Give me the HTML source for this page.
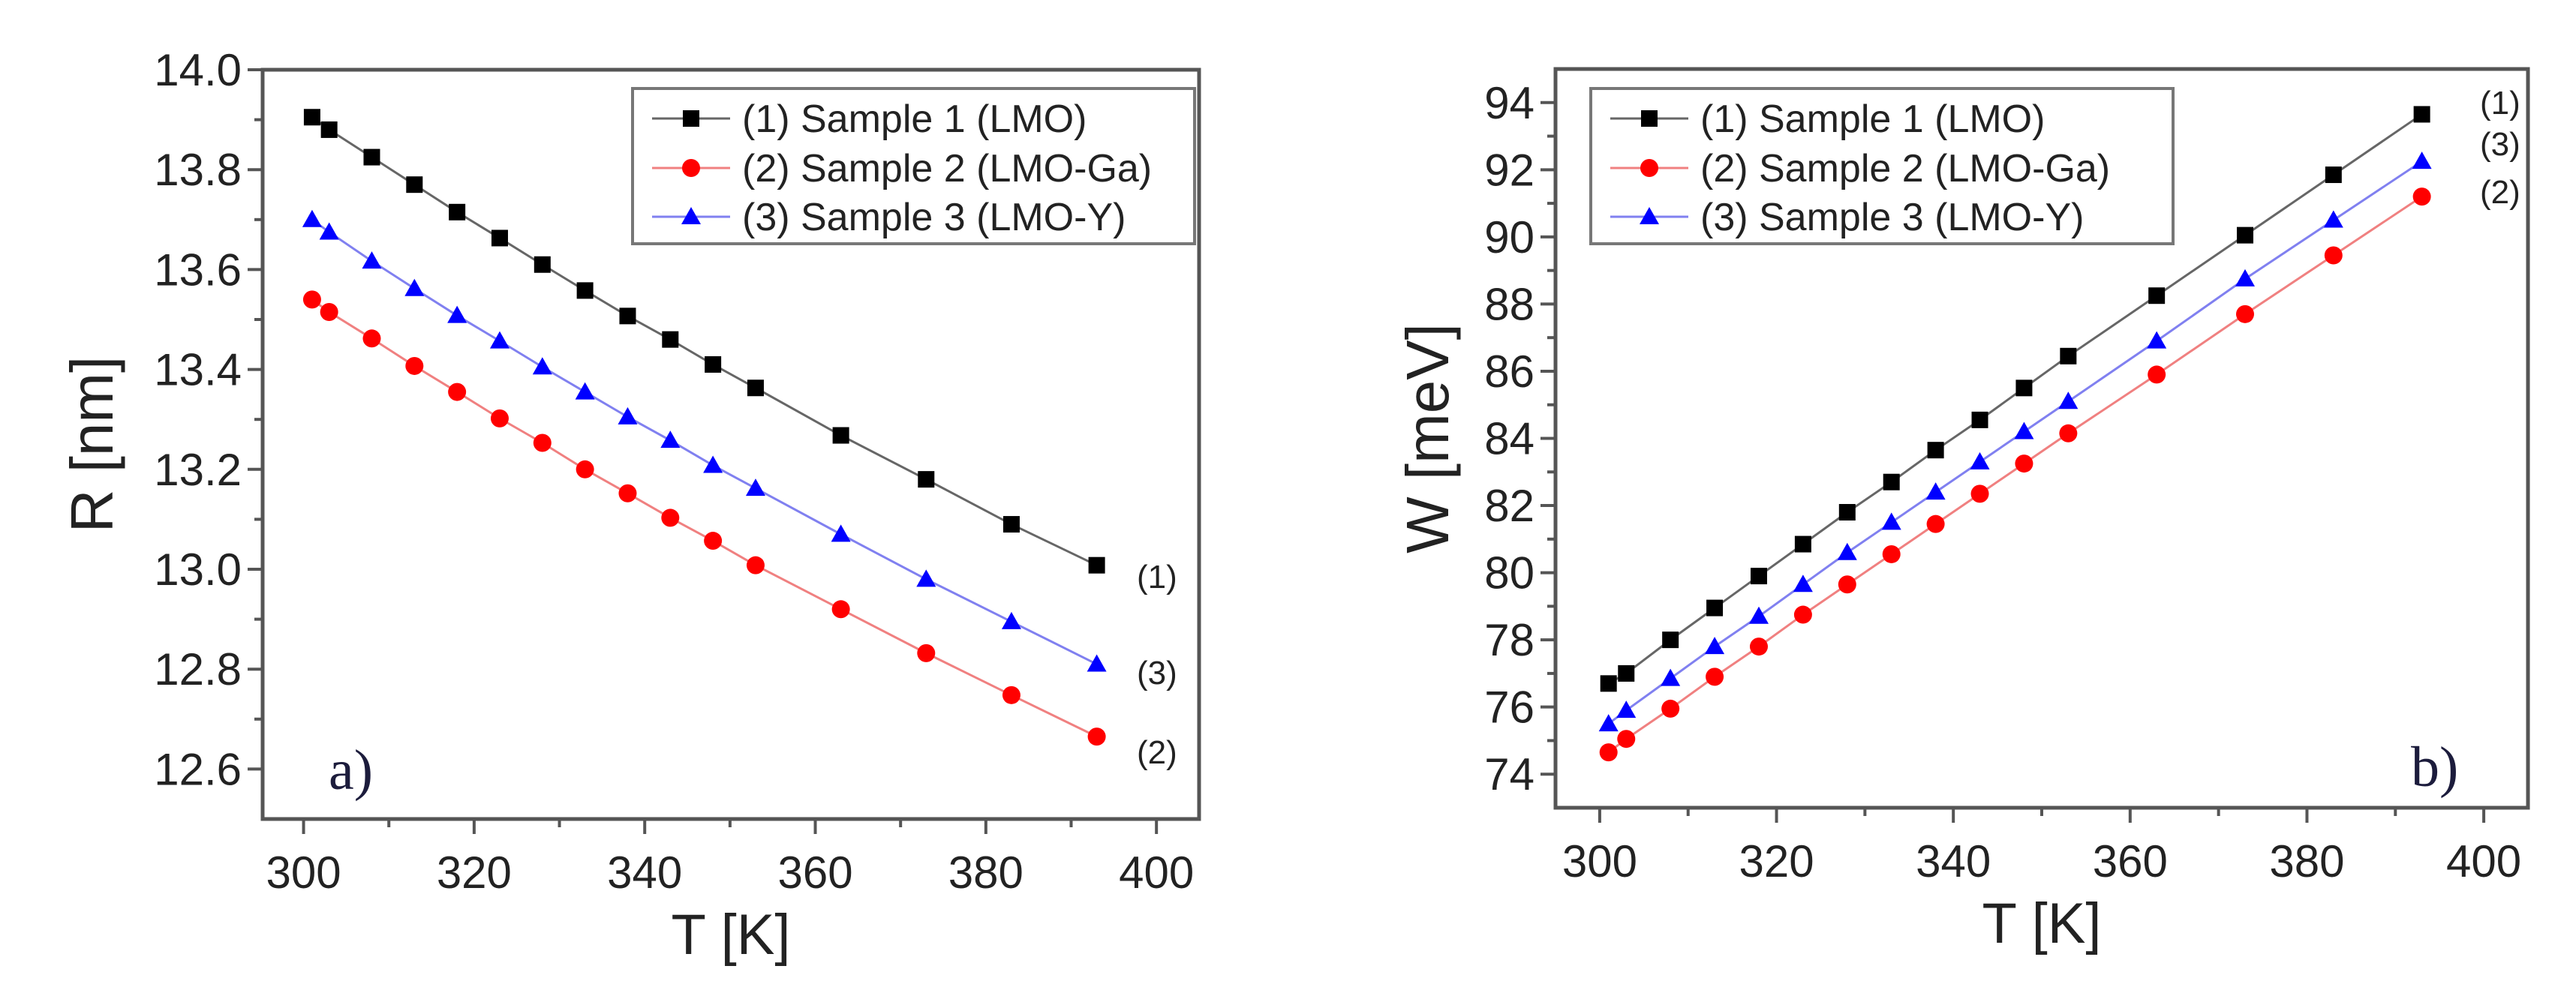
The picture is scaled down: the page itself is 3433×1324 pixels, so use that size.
<!DOCTYPE html>
<html><head><meta charset="utf-8"><style>
html,body{margin:0;padding:0;background:#fff;}
svg{display:block;font-family:"Liberation Sans",sans-serif;}
</style></head><body>
<svg id="fig" width="3433" height="1324" viewBox="0 0 3433 1324" xmlns="http://www.w3.org/2000/svg">
<rect width="3433" height="1324" fill="#fff"/>
</svg>
<script>
const temps = [301,303,308,313,318,323,328,333,338,343,348,353,363,373,383,393];
const rS1 = [13.905,13.88,13.825,13.77,13.715,13.663,13.61,13.558,13.507,13.46,13.41,13.363,13.268,13.18,13.09,13.008];
const rS2 = [13.54,13.515,13.462,13.407,13.355,13.302,13.253,13.2,13.152,13.103,13.057,13.008,12.92,12.832,12.748,12.665];
const rS3 = [13.70,13.675,13.617,13.562,13.508,13.457,13.405,13.355,13.305,13.258,13.208,13.162,13.07,12.98,12.895,12.81];
const wS1 = [76.7,77.0,78.0,78.95,79.9,80.85,81.8,82.7,83.65,84.55,85.5,86.45,88.25,90.05,91.85,93.65];
const wS2 = [74.65,75.05,75.95,76.9,77.8,78.75,79.65,80.55,81.45,82.35,83.25,84.15,85.9,87.7,89.45,91.2];
const wS3 = [75.5,75.9,76.85,77.8,78.7,79.65,80.6,81.5,82.4,83.3,84.2,85.1,86.9,88.75,90.5,92.25];
const xTicks = [300,320,340,360,380,400];
const rTicks = [12.6,12.8,13.0,13.2,13.4,13.6,13.8,14.0];
const wTicks = [74,76,78,80,82,84,86,88,90,92,94];
const legendLabels = ["(1) Sample 1 (LMO)","(2) Sample 2 (LMO-Ga)","(3) Sample 3 (LMO-Y)"];

const NS="http://www.w3.org/2000/svg";
const svg=document.getElementById('fig');
function mk(tag,attrs,parent,text){const e=document.createElementNS(NS,tag);for(const k in attrs)e.setAttribute(k,attrs[k]);if(text!==undefined)e.textContent=text;(parent||svg).appendChild(e);return e;}

const seriesStyle=[{line:'#666',fill:'#000',shape:'sq'},{line:'#f08080',fill:'#f00',shape:'ci'},{line:'#8080f0',fill:'#00f',shape:'tr'}];

function marker(g,shape,cx,cy,fill){
  let m;
  if(shape==='sq') m=mk('rect',{x:cx-11,y:cy-11,width:22,height:22,fill:fill},g);
  else if(shape==='ci') m=mk('circle',{cx:cx,cy:cy,r:12,fill:fill},g);
  else m=mk('polygon',{points:`${cx},${cy-13} ${cx+13},${cy+10} ${cx-13},${cy+10}`,fill:fill},g);
  
  
}

function chart(c){
  const g=mk('g',{});
  
  
  const X=v=>c.L+(v-c.xmin)/(c.xmax-c.xmin)*(c.R-c.L);
  const Y=v=>c.B-(v-c.ymin)/(c.ymax-c.ymin)*(c.B-c.T);
  const box=mk('rect',{x:c.L,y:c.T,width:c.R-c.L,height:c.B-c.T,fill:'none',stroke:'#555',"stroke-width":5},g);
  
  
  xTicks.forEach(t=>{
    const x=X(t);
    mk('line',{x1:x,y1:c.B,x2:x,y2:c.B+20,stroke:'#555',"stroke-width":4},g);
    const mx=X(t+10); if(t+10<c.xmax) mk('line',{x1:mx,y1:c.B,x2:mx,y2:c.B+11,stroke:'#555',"stroke-width":4},g);
    const tl=mk('text',{x:x,y:c.B+92,"font-size":60,"text-anchor":"middle",fill:'#222'},g,String(t));
    
    
  });
  c.yTicks.forEach((t,i)=>{
    const y=Y(t);
    mk('line',{x1:c.L-20,y1:y,x2:c.L,y2:y,stroke:'#555',"stroke-width":4},g);
    const my=Y(t+c.ystep/2); if(t+c.ystep/2<c.ymax) mk('line',{x1:c.L-11,y1:my,x2:c.L,y2:my,stroke:'#555',"stroke-width":4},g);
    if(i===0){const my2=Y(t-c.ystep/2); if(t-c.ystep/2>c.ymin) mk('line',{x1:c.L-11,y1:my2,x2:c.L,y2:my2,stroke:'#555',"stroke-width":4},g);}
    const tl=mk('text',{x:c.L-28,y:y+21,"font-size":60,"text-anchor":"end",fill:'#222'},g,c.yFmt(t));
    
    
  });
  const xt=mk('text',{x:(c.L+c.R)/2,y:c.B+180,"font-size":76,"text-anchor":"middle",fill:'#222'},g,'T [K]');
  
  
  const yt=mk('text',{x:0,y:0,"font-size":80,"text-anchor":"middle",fill:'#222',transform:`translate(${c.ytx},${(c.T+c.B)/2}) rotate(-90)`},g,c.ytitle);
  
  
  c.series.forEach((s,si)=>{
    const st=seriesStyle[si];
    const sg=mk('g',{},g);
    
    
    const pts=temps.map((t,i)=>X(t)+','+Y(s[i])).join(' ');
    const pl=mk('polyline',{points:pts,fill:'none',stroke:st.line,"stroke-width":3},sg);
    
    
    temps.forEach((t,i)=>marker(sg,st.shape,X(t),Y(s[i]),st.fill));
  });
  const lg=mk('g',{},g);
  
  
  mk('rect',{x:c.lgx,y:118,width:c.lgw,height:207,fill:'#fff',stroke:'#777',"stroke-width":4},lg);
  [158,224,289].forEach((y,i)=>{
    const st=seriesStyle[i];
    mk('line',{x1:c.lgx+26,y1:y,x2:c.lgx+130,y2:y,stroke:st.line,"stroke-width":3},lg);
    marker(lg,st.shape,c.lgx+78,y,st.fill);
    const t=mk('text',{x:c.lgx+146,y:y+18,"font-size":52,fill:'#222'},lg,legendLabels[i]);
    
    
  });
  c.tags.forEach(tg=>{
    const t=mk('text',{x:tg[0],y:tg[1]+15,"font-size":44,fill:'#222'},g,tg[2]);
    
    
  });
  const pl=mk('text',{x:c.panel[0],y:c.panel[1],"font-size":76,fill:'#1c1c3c',"font-family":'"Liberation Serif",serif'},g,c.panel[2]);
  
  
}

chart({name:'chart-a',L:350,R:1598,T:93,B:1092,xmin:295.2,xmax:405,ymin:12.5,ymax:14.0,ystep:0.2,
  yTicks:rTicks,yFmt:v=>v.toFixed(1),ytitle:'R [nm]',ytx:150,series:[rS1,rS2,rS3],
  lgx:843,lgw:749,tags:[[1515,769,'(1)'],[1515,897,'(3)'],[1515,1003,'(2)']],panel:[438,1052,'a)']});
chart({name:'chart-b',L:2073,R:3369,T:92,B:1077,xmin:295,xmax:405,ymin:73,ymax:95,ystep:2,
  yTicks:wTicks,yFmt:v=>String(v),ytitle:'W [meV]',ytx:1930,series:[wS1,wS2,wS3],
  lgx:2120,lgw:776,tags:[[3305,137,'(1)'],[3305,192,'(3)'],[3305,256,'(2)']],panel:[3213,1048,'b)']});
</script>
</body></html>
